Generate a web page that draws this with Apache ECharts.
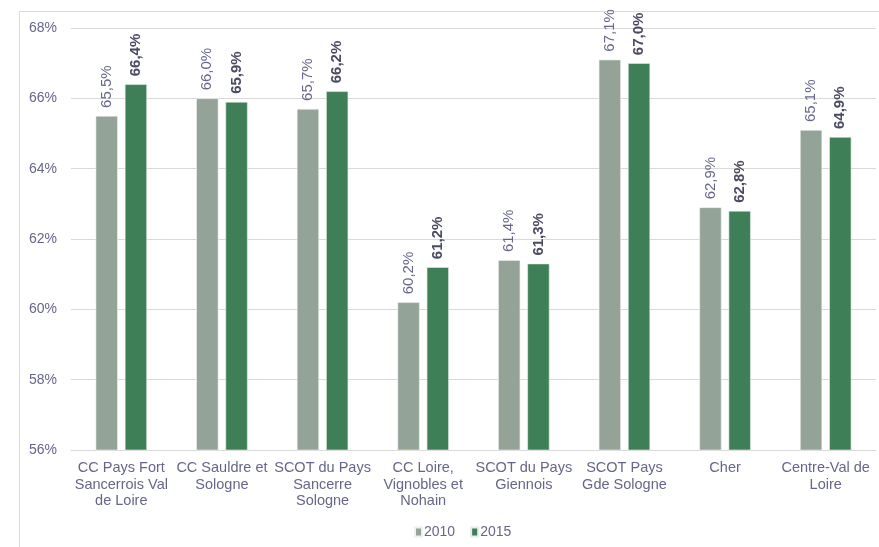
<!DOCTYPE html>
<html><head><meta charset="utf-8">
<script src="https://cdn.jsdelivr.net/npm/echarts@6/dist/echarts.min.js"></script>
<style>html,body{margin:0;padding:0;background:#fff}#c{width:879px;height:547px}</style>
</head><body><div id="c"></div>
<script>
const categories = ["CC Pays Fort\nSancerrois Val\nde Loire","CC Sauldre et\nSologne","SCOT du Pays\nSancerre\nSologne","CC Loire,\nVignobles et\nNohain","SCOT du Pays\nGiennois","SCOT Pays\nGde Sologne","Cher","Centre-Val de\nLoire"];
const values2010 = [65.5, 66.0, 65.7, 60.2, 61.4, 67.1, 62.9, 65.1];
const values2015 = [66.4, 65.9, 66.2, 61.2, 61.3, 67.0, 62.8, 64.9];
const seriesNames = ["2010", "2015"];
const fmt = v => v.toFixed(1).replace('.', ',') + '%';
const chart = echarts.init(document.getElementById('c'));
const txt = '#66668a';
chart.setOption({
  animation: false,
  textStyle: {fontFamily: 'Liberation Sans, Arial, sans-serif'},
  graphic: [{type:'rect', shape:{x:19.5,y:11.5,width:900,height:600}, style:{fill:'none', stroke:'#d9d9e0', lineWidth:1}}],
  grid: {left:71, right:3, top:28, bottom:97},
  legend: {data: seriesNames, bottom: 3, left: 409, itemWidth:7, itemHeight:9, itemGap:15, icon:'rect',
    textStyle:{color:txt, fontSize:14, padding:[0,0,0,-3]}},
  xAxis: {type:'category', data: categories,
    axisLine:{lineStyle:{color:'#d9d9d9'}}, axisTick:{show:false},
    axisLabel:{color:txt, fontSize:14.5, lineHeight:16.5, margin:10, interval:0}},
  yAxis: {type:'value', min:56, max:68, interval:2,
    axisLabel:{formatter:'{value}%', color:txt, fontSize:14, margin:14},
    splitLine:{lineStyle:{color:'#d9d9d9'}}},
  series: [
    {name:seriesNames[0], type:'bar', data: values2010, barWidth:'22%', barGap:'32%',
      itemStyle:{color:'#93a397', borderColor:'#eef0ee', borderWidth:0.6},
      label:{show:true, position:'top', rotate:90, align:'left', verticalAlign:'middle', distance:8,
        formatter: p => fmt(p.value), color:txt, fontSize:15}},
    {name:seriesNames[1], type:'bar', data: values2015, barWidth:'22%',
      itemStyle:{color:'#3e7f57', borderColor:'#e6eee8', borderWidth:0.6},
      label:{show:true, position:'top', rotate:90, align:'left', verticalAlign:'middle', distance:8,
        formatter: p => fmt(p.value), color:'#4a4a62', fontSize:15, fontWeight:'bold'}}
  ]
});
</script></body></html>
